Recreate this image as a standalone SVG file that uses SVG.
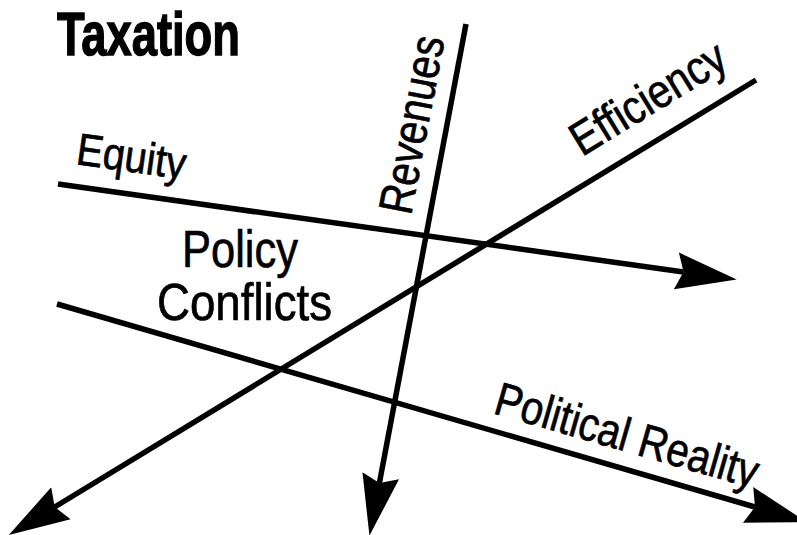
<svg xmlns="http://www.w3.org/2000/svg" width="797" height="535" viewBox="0 0 797 535">
  <style>
    .axis { fill: none; stroke: #000; stroke-width: 5.5; stroke-linecap: butt; marker-end: url(#head); }
    .lbl { font-family: "Liberation Sans", Arial, sans-serif; fill: #000; stroke: #000; stroke-width: 0.7; }
    .title { font-family: "Liberation Sans", Arial, sans-serif; font-weight: bold; fill: #000; stroke: #000; stroke-width: 1.4; }
  </style>
  <defs>
    <marker id="head" markerUnits="userSpaceOnUse" markerWidth="62" markerHeight="40" viewBox="0 -19 60 38" refX="7" refY="0" orient="auto">
      <path d="M0,-18 L59,0 L0,18 L7,0 Z" fill="#000"/>
    </marker>
  </defs>
  <rect width="797" height="535" fill="#fff"/>

  <!-- the four tension axes -->
  <g id="connectors">
    <path id="equity-axis" class="axis" d="M58,184 L683.5,272"/>
    <path id="revenues-axis" class="axis" d="M466,24 L379.4,482.9"/>
    <path id="efficiency-axis" class="axis" d="M756,80 L54.7,507"/>
    <path id="political-axis" class="axis" d="M57,304 L755,507"/>
  </g>

  <g id="title">
    <text class="title" x="57" y="55" font-size="62" textLength="183" lengthAdjust="spacingAndGlyphs">Taxation</text>
  </g>

  <g id="center">
    <text class="lbl" x="240" y="267" font-size="52" text-anchor="middle" textLength="116" lengthAdjust="spacingAndGlyphs">Policy</text>
    <text class="lbl" x="244.5" y="320" font-size="52" text-anchor="middle" textLength="175" lengthAdjust="spacingAndGlyphs">Conflicts</text>
  </g>

  <g id="equity">
    <text class="lbl" transform="translate(75,164) rotate(8)" font-size="45" textLength="110" lengthAdjust="spacingAndGlyphs">Equity</text>
  </g>

  <g id="revenues">
    <text class="lbl" transform="translate(411,216) rotate(-79.2)" font-size="48" textLength="180" lengthAdjust="spacingAndGlyphs">Revenues</text>
  </g>

  <g id="efficiency">
    <text class="lbl" transform="translate(582,157) rotate(-31.4)" font-size="47" textLength="174" lengthAdjust="spacingAndGlyphs">Efficiency</text>
  </g>

  <g id="political-reality">
    <text class="lbl" transform="translate(492,413) rotate(16.1)" font-size="47" textLength="272" lengthAdjust="spacingAndGlyphs">Political Reality</text>
  </g>
</svg>
